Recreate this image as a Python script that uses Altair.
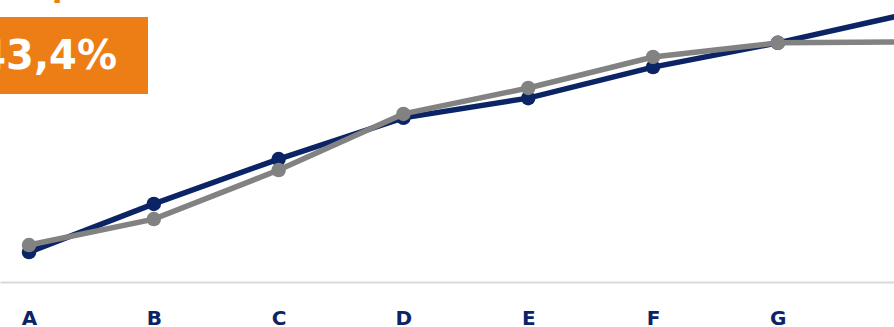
import altair as alt
import pandas as pd

categories = ["A", "B", "C", "D", "E", "F", "G", "H"]
series_names = ["Série 1", "Série 2"]
series_1 = [10.6, 27.7, 43.6, 58.2, 65.2, 76.2, 84.8, 94.7]
series_2 = [13.1, 22.3, 39.7, 59.6, 68.8, 79.8, 84.8, 85.1]
annotation_text = "+43,4%"
top_text = "p"

NAVY = "#0B2466"
GREY = "#828282"
ORANGE = "#EC7E15"

rows = []
for i, c in enumerate(categories):
    rows.append({"idx": i, "cat": c, "value": series_1[i], "series": series_names[0]})
    rows.append({"idx": i, "cat": c, "value": series_2[i], "series": series_names[1]})
df = pd.DataFrame(rows)

label_expr = "[" + ",".join("'%s'" % c for c in categories) + "][datum.value]"

x_enc = alt.X(
    "idx:Q",
    scale=alt.Scale(domain=[-0.2324, 6.931], nice=False, zero=False),
    axis=alt.Axis(
        values=list(range(len(categories) - 1)),
        labelExpr=label_expr,
        title=None,
        grid=False,
        ticks=False,
        domainColor="#D9D9D9",
        domainWidth=2,
        labelFont="DejaVu Sans",
        labelFontSize=20,
        labelFontWeight="bold",
        labelColor=NAVY,
        labelBaseline="alphabetic",
        labelPadding=42,
        labelFlush=False,
        labelOverlap=False,
    ),
)
y_enc = alt.Y("value:Q", scale=alt.Scale(domain=[0, 100], nice=False), axis=None)

def series_layer(name, color):
    d = df[df["series"] == name]
    base = alt.Chart(d).encode(x=x_enc, y=y_enc, order="idx:Q")
    line = base.mark_line(color=color, strokeWidth=5.5, clip=True)
    pts = base.mark_circle(color=color, size=210, opacity=1, clip=True)
    return line + pts

one = pd.DataFrame({"k": [0]})
box = alt.Chart(one).mark_rect(color=ORANGE).encode(
    x=alt.value(0), x2=alt.value(148), y=alt.value(17), y2=alt.value(94)
)
box_text = alt.Chart(one).mark_text(
    align="right", baseline="alphabetic", font="DejaVu Sans", fontSize=40,
    fontWeight="bold", color="white"
).encode(x=alt.value(117), y=alt.value(69), text=alt.value(annotation_text))
top = alt.Chart(one).mark_text(
    align="left", baseline="alphabetic", font="DejaVu Sans", fontSize=30,
    fontWeight="bold", color=ORANGE
).encode(x=alt.value(52), y=alt.value(-3), text=alt.value(top_text))

chart = alt.layer(
    series_layer(series_names[0], NAVY),
    series_layer(series_names[1], GREY),
    box, box_text, top,
).properties(
    width=894, height=282,
    autosize=alt.AutoSizeParams(type="none"),
    padding={"left": 0, "top": 0, "right": 0, "bottom": 45},
    background="white",
).configure_view(stroke=None)

chart.save("out.html", embed_options={"renderer": "svg", "actions": False})
